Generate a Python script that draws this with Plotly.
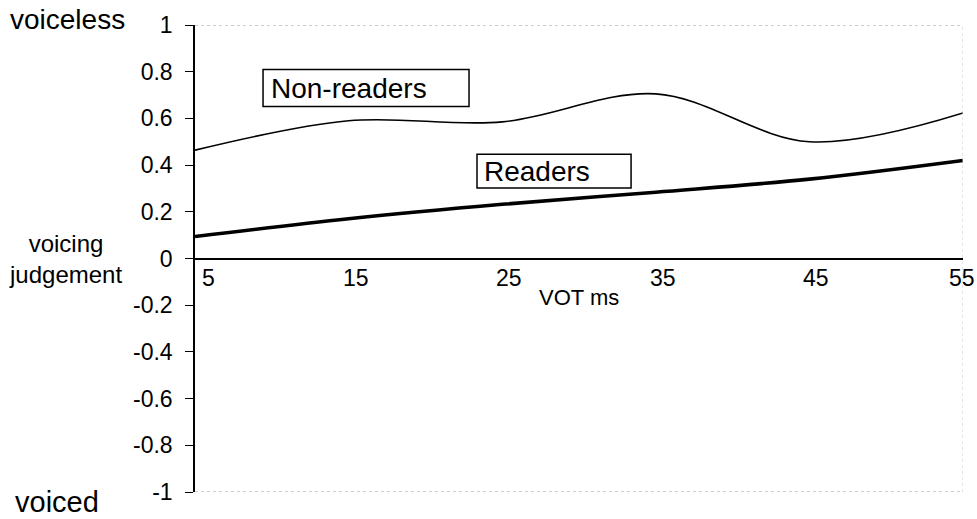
import plotly.graph_objects as go

# VOT continuum (ms) and mean voicing judgements (+1 voiceless, -1 voiced)
vot_ms = [5, 15, 25, 35, 45, 55]
non_readers = [0.464, 0.59, 0.585, 0.705, 0.50, 0.623]
readers = [0.094, 0.17, 0.232, 0.284, 0.34, 0.42]

x_tick_vals = [5, 15, 25, 35, 45, 55]
x_tick_text = ["5", "15", "25", "35", "45", "55"]
y_tick_vals = [1, 0.8, 0.6, 0.4, 0.2, 0, -0.2, -0.4, -0.6, -0.8, -1]
y_tick_text = ["1", "0.8", "0.6", "0.4", "0.2", "0", "-0.2", "-0.4", "-0.6", "-0.8", "-1"]

FONT = "Liberation Sans, Arial, sans-serif"
W, H = 977, 519
L, R, T, B = 195, 14, 22, 27


def px_to_paper(px, py):
    return (px - L) / (W - L - R), (H - B - py) / (H - T - B)


fig = go.Figure()

fig.add_trace(go.Scatter(
    x=vot_ms, y=non_readers, mode="lines", name="Non-readers",
    line=dict(color="black", width=1.6, shape="spline", smoothing=1.0),
))
fig.add_trace(go.Scatter(
    x=vot_ms, y=readers, mode="lines", name="Readers",
    line=dict(color="black", width=3.6, shape="spline", smoothing=1.0),
))

# faint frame on the top, right and bottom of the plot area
frame = dict(color="#9a9a9a", width=1, dash="dot")
fig.add_shape(type="line", x0=5, x1=55, y0=1, y1=1, line=frame)
fig.add_shape(type="line", x0=5, x1=55, y0=-1, y1=-1, line=frame)
fig.add_shape(type="line", x0=55, x1=55, y0=-1, y1=1,
              line=dict(color="#c8c8c8", width=1, dash="dot"))

# series label boxes
box_line = dict(color="black", width=1.5)
fig.add_shape(type="rect", x0=9.43, x1=22.84, y0=0.651, y1=0.809,
              line=box_line, fillcolor="white")
fig.add_shape(type="rect", x0=23.36, x1=33.39, y0=0.302, y1=0.447,
              line=box_line, fillcolor="white")
fig.add_annotation(x=9.8, y=0.728, text="Non-readers", showarrow=False,
                   xanchor="left", yanchor="middle",
                   font=dict(family=FONT, size=28, color="black"))
fig.add_annotation(x=23.7, y=0.372, text="Readers", showarrow=False,
                   xanchor="left", yanchor="middle",
                   font=dict(family=FONT, size=28, color="black"))

# VOT tick labels sit just below the axis that crosses at zero;
# the first one is kept clear of the vertical axis line
for i, (v, t) in enumerate(zip(x_tick_vals, x_tick_text)):
    first, last = i == 0, i == len(x_tick_vals) - 1
    fig.add_annotation(
        x=v, y=0, text=t, showarrow=False,
        xanchor="left" if first else "center", yanchor="top",
        xshift=5 if first else (-1 if last else 7), yshift=-4,
        font=dict(family=FONT, size=23, color="black"),
    )

# side labels for the judgement scale
x, y = px_to_paper(8, 16)
fig.add_annotation(x=x, y=y, xref="paper", yref="paper", text="voiceless",
                   showarrow=False, xanchor="left", yanchor="middle",
                   font=dict(family=FONT, size=28, color="black"))
x, y = px_to_paper(13, 502)
fig.add_annotation(x=x, y=y, xref="paper", yref="paper", text="voiced",
                   showarrow=False, xanchor="left", yanchor="middle",
                   font=dict(family=FONT, size=29, color="black"))
x, y = px_to_paper(65, 258)
fig.add_annotation(x=x, y=y, xref="paper", yref="paper",
                   text="voicing<br>judgement", showarrow=False, align="center",
                   xanchor="center", yanchor="middle",
                   font=dict(family=FONT, size=24, color="black"))
x, y = px_to_paper(579, 296)
fig.add_annotation(x=x, y=y, xref="paper", yref="paper", text="VOT ms",
                   showarrow=False, xanchor="center", yanchor="middle",
                   font=dict(family=FONT, size=22, color="black"))

fig.update_layout(
    width=W, height=H,
    margin=dict(l=L, r=R, t=T, b=B, pad=0),
    paper_bgcolor="white", plot_bgcolor="white",
    showlegend=False,
    font=dict(family=FONT, size=22, color="black"),
    xaxis=dict(
        range=[5, 55], anchor="free", position=0.5,
        tickmode="array", tickvals=x_tick_vals,
        showticklabels=False,
        showline=True, linecolor="black", linewidth=1.5,
        showgrid=False, zeroline=False, ticks="",
    ),
    yaxis=dict(
        range=[-1, 1],
        tickmode="array", tickvals=y_tick_vals, ticktext=y_tick_text,
        showline=True, linecolor="black", linewidth=1.5,
        showgrid=False, zeroline=False,
        ticks="outside", ticklen=8, tickwidth=1.2, tickcolor="black",
        ticklabelstandoff=8,
        tickfont=dict(family=FONT, size=23, color="black"),
    ),
)

fig.write_html("out.html")
